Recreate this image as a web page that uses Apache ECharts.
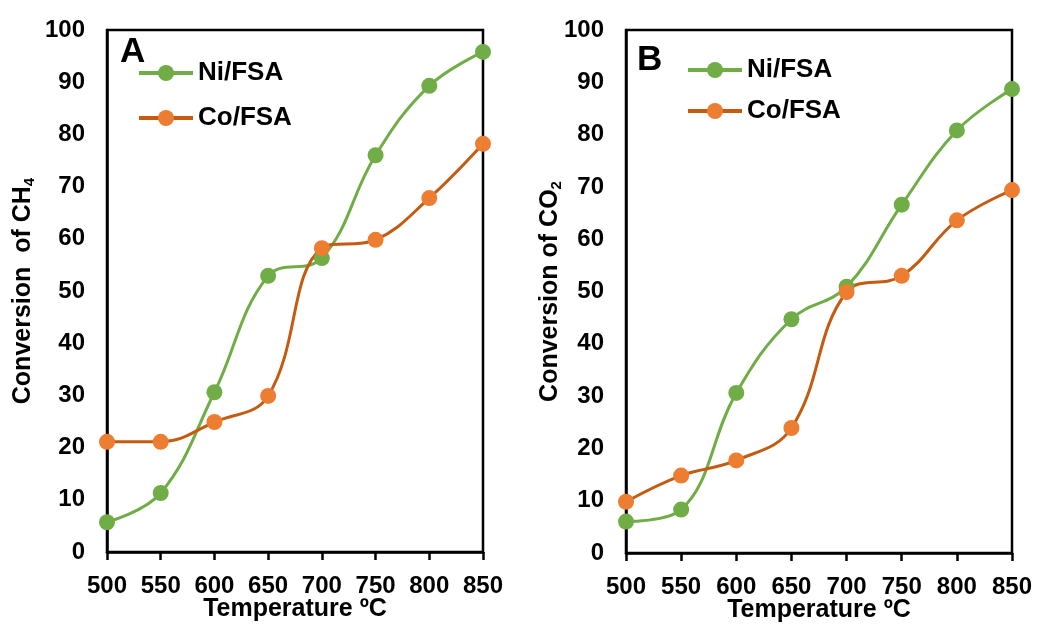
<!DOCTYPE html>
<html>
<head>
<meta charset="utf-8">
<script src="https://cdn.jsdelivr.net/npm/echarts@6/dist/echarts.min.js"></script>
<style>
  html, body { margin: 0; padding: 0; background: #fff; }
  #main { width: 1038px; height: 626px; }
</style>
</head>
<body>
<div id="main"></div>
<script>
// temperatures (ºC)
const temps = [500, 550, 600, 650, 700, 750, 800, 850]
// panel A: CH4 conversion (%)
const niCH4 = [5.7, 11.3, 30.6, 52.9, 56.3, 76.0, 89.3, 95.8]
const coCH4 = [21.1, 21.1, 24.9, 29.9, 58.2, 59.8, 67.8, 78.2]
// panel B: CO2 conversion (%)
const niCO2 = [6.0, 8.3, 30.6, 44.7, 50.9, 66.6, 80.8, 88.7]
const coCO2 = [9.8, 14.8, 17.7, 23.9, 49.9, 53.0, 63.6, 69.4]
const yTicks = [0, 10, 20, 30, 40, 50, 60, 70, 80, 90, 100]

const FONT = 'Liberation Sans'
const GREEN = '#70AD47'
const ORANGE = '#ED7D31'
const ORANGE_LINE = '#C55A11'

const pairs = vals => temps.map((t, i) => [t, vals[i]])

function xAxis(idx) {
  return {
    gridIndex: idx,
    type: 'value',
    min: 500,
    max: 850,
    interval: 50,
    name: 'Temperature ºC',
    nameLocation: 'middle',
    nameGap: 45,
    nameMoveOverlap: false,
    nameTextStyle: { fontFamily: FONT, fontWeight: 'bold', fontSize: 25, color: '#000' },
    axisLine: { show: true, lineStyle: { color: '#000', width: 2.5 } },
    axisTick: { show: true, length: 8, lineStyle: { color: '#000', width: 2.5 } },
    axisLabel: { margin: 22, fontFamily: FONT, fontWeight: 'bold', fontSize: 24, color: '#000' },
    splitLine: { show: false },
  }
}

function yAxis(idx, gas, gap) {
  return {
    gridIndex: idx,
    type: 'value',
    min: yTicks[0],
    max: yTicks[yTicks.length - 1],
    interval: 10,
    name: gas === 'CH' ? 'Conversion  of CH{sub|4}' : 'Conversion of CO{sub|2}',
    nameLocation: 'middle',
    nameGap: gap,
    nameMoveOverlap: false,
    nameTextStyle: {
      fontFamily: FONT, fontWeight: 'bold', fontSize: 25, color: '#000',
      rich: { sub: { fontFamily: FONT, fontWeight: 'bold', fontSize: 15, color: '#000', padding: [12, 0, 0, 0] } },
    },
    axisLine: { show: true, lineStyle: { color: '#000', width: 2.5 } },
    axisTick: { show: false },
    axisLabel: { margin: 22, fontFamily: FONT, fontWeight: 'bold', fontSize: 24, color: '#000' },
    splitLine: { show: false },
  }
}

function series(name, vals, idx, color, lineColor) {
  return {
    name: name,
    type: 'line',
    xAxisIndex: idx,
    yAxisIndex: idx,
    data: pairs(vals),
    smooth: 0.4,
    symbol: 'circle',
    symbolSize: 16,
    itemStyle: { color: color },
    lineStyle: { color: lineColor, width: 3 },
    z: idx + 2,
  }
}

function legend(left, top, gap) {
  return {
    left: left,
    top: top,
    orient: 'vertical',
    itemWidth: 54,
    itemHeight: 20,
    itemGap: gap,
    data: ['Ni/FSA', 'Co/FSA'],
    lineStyle: { width: 4 },
    textStyle: { fontFamily: FONT, fontWeight: 'bold', fontSize: 26, color: '#000' },
  }
}

const chart = echarts.init(document.getElementById('main'))
chart.setOption({
  backgroundColor: '#fff',
  animation: false,
  grid: [
    { left: 107, right: 555, top: 30, bottom: 74, outerBoundsMode: 'none', containLabel: false, show: true, borderColor: '#000', borderWidth: 2.5 },
    { left: 626, right: 26, top: 30, bottom: 73, outerBoundsMode: 'none', containLabel: false, show: true, borderColor: '#000', borderWidth: 2.5 },
  ],
  legend: [legend(132, 55, 19), legend(681, 52, 15)],
  xAxis: [xAxis(0), xAxis(1)],
  yAxis: [yAxis(0, 'CH', 70), yAxis(1, 'CO', 62)],
  series: [
    series('Ni/FSA', niCH4, 0, GREEN, GREEN),
    series('Co/FSA', coCH4, 0, ORANGE, ORANGE_LINE),
    series('Ni/FSA', niCO2, 1, GREEN, GREEN),
    series('Co/FSA', coCO2, 1, ORANGE, ORANGE_LINE),
  ],
  graphic: [
    { type: 'text', left: 120, top: 35, style: { text: 'A', fontFamily: FONT, fontWeight: 'bold', fontSize: 35, fill: '#000' } },
    { type: 'text', left: 637, top: 43, style: { text: 'B', fontFamily: FONT, fontWeight: 'bold', fontSize: 35, fill: '#000' } },
  ],
})
</script>
</body>
</html>
